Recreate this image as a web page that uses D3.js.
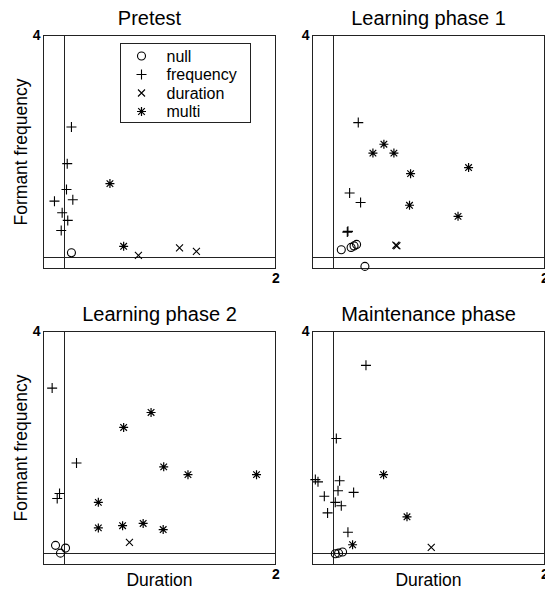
<!DOCTYPE html>
<html>
<head>
<script src="https://d3js.org/d3.v7.min.js"></script>
<style>
  body { margin: 0; background: #fff; }
  svg text { font-family: "Liberation Sans", Arial, sans-serif; fill: #000; }
  .tick text { font-size: 14px; font-weight: bold; }
</style>
</head>
<body>
<svg width="545" height="589"></svg>
<script>
const titles = ["Pretest", "Learning phase 1", "Learning phase 2", "Maintenance phase"];
const seriesNames = ["null", "frequency", "duration", "multi"];
const xTicks = [2];
const yTicks = [4];

// [duration, formant frequency], one list per panel
const nullPts = [
  [[0.065, 0.085]],
  [[0.073, 0.139], [0.166, 0.18], [0.194, 0.207], [0.218, 0.234], [0.297, -0.162]],
  [[-0.086, 0.145], [-0.039, 0.005], [0.009, 0.096]],
  [[0.016, -0.005], [0.047, 0.005], [0.085, 0.024]]
];
const frequencyPts = [
  [[0.065, 2.35], [0.025, 1.69], [0.018, 1.225], [-0.096, 1.014], [0.078, 1.04], [-0.023, 0.805], [0.03, 0.667], [-0.032, 0.486]],
  [[0.234, 2.43], [0.152, 1.16], [0.256, 0.99], [0.13, 0.456], [0.136, 0.47]],
  [[-0.118, 2.98], [0.113, 1.63], [-0.048, 1.08], [-0.07, 0.99]],
  [[0.307, 3.39], [0.026, 2.07], [-0.173, 1.33], [-0.148, 1.29], [0.057, 1.31], [0.042, 1.13], [0.19, 1.10],
   [-0.088, 1.03], [0.016, 0.92], [0.073, 0.86], [-0.057, 0.73], [0.136, 0.38]]
];
const durationPts = [
  [[0.70, 0.036], [1.09, 0.17], [1.25, 0.11]],
  [[0.59, 0.22], [0.60, 0.21]],
  [[0.615, 0.20]],
  [[0.926, 0.11]]
];
const multiPts = [
  [[0.43, 1.33], [0.56, 0.20]],
  [[0.373, 1.88], [0.477, 2.04], [0.572, 1.88], [0.73, 1.51], [1.28, 1.62], [0.72, 0.94], [1.18, 0.74]],
  [[0.82, 2.54], [0.56, 2.27], [0.94, 1.56], [1.17, 1.42], [1.82, 1.42], [0.32, 0.92], [0.32, 0.46],
   [0.55, 0.50], [0.745, 0.54], [0.935, 0.43]],
  [[0.474, 1.42], [0.696, 0.66], [0.18, 0.156]]
];
const seriesPts = [nullPts, frequencyPts, durationPts, multiPts];

const markerPath = {
  frequency: "M-5,0H5M0,-5V5",
  duration: "M-3.5,-3.5L3.5,3.5M-3.5,3.5L3.5,-3.5",
  multi: "M-4.5,0H4.5M0,-4.5V4.5M-3.3,-3.3L3.3,3.3M-3.3,3.3L3.3,-3.3"
};

function drawMarker(sel, name) {
  if (name === "null") {
    sel.append("circle").attr("r", 4)
      .attr("fill", "none").attr("stroke", "#000").attr("stroke-width", 1.1);
  } else {
    sel.append("path").attr("d", markerPath[name])
      .attr("fill", "none").attr("stroke", "#000")
      .attr("stroke-width", name === "multi" ? 1.2 : 1.1);
  }
}

const svg = d3.select("svg");
const panelW = 232, panelH = 233;
const lefts = [43, 312], tops = [35, 331];

const x = d3.scaleLinear().domain([-0.2, 2]).range([0, panelW]);
const y = d3.scaleLinear().domain([-0.2, 4]).range([panelH, 0]);

titles.forEach((title, i) => {
  const col = i % 2, row = Math.floor(i / 2);
  const g = svg.append("g")
    .attr("transform", `translate(${lefts[col] + 0.5},${tops[row] + 0.5})`);

  g.append("rect")
    .attr("width", panelW).attr("height", panelH)
    .attr("fill", "none").attr("stroke", "#222");

  g.append("line")
    .attr("x1", Math.round(x(0))).attr("x2", Math.round(x(0)))
    .attr("y1", 0).attr("y2", panelH)
    .attr("stroke", "#222");
  g.append("line")
    .attr("x1", 0).attr("x2", panelW)
    .attr("y1", Math.round(y(0))).attr("y2", Math.round(y(0)))
    .attr("stroke", "#222");

  const xAxis = g.append("g")
    .attr("transform", `translate(0,${panelH})`)
    .call(d3.axisBottom(x).tickValues(xTicks).tickFormat(d3.format("d")).tickSize(0).tickPadding(5));
  xAxis.select(".domain").remove();
  const yAxis = g.append("g")
    .call(d3.axisLeft(y).tickValues(yTicks).tickFormat(d3.format("d")).tickSize(0).tickPadding(3));
  yAxis.select(".domain").remove();

  // the first title sits a little left of centre in the original
  g.append("text")
    .attr("x", panelW / 2 - (i === 0 ? 10 : 0))
    .attr("y", -11)
    .attr("text-anchor", "middle")
    .attr("font-size", 20)
    .text(title);

  if (col === 0) {
    g.append("text")
      .attr("transform", `translate(${26 - lefts[col]},${panelH / 2}) rotate(-90)`)
      .attr("text-anchor", "middle")
      .attr("font-size", 17.5)
      .text("Formant frequency");
  }
  if (row === 1) {
    g.append("text")
      .attr("x", panelW / 2)
      .attr("y", 585 - tops[row])
      .attr("text-anchor", "middle")
      .attr("font-size", 17.5)
      .text("Duration");
  }

  seriesNames.forEach((name, s) => {
    g.append("g").selectAll("g")
      .data(seriesPts[s][i])
      .join("g")
        .attr("transform", d => `translate(${x(d[0])},${y(d[1])})`)
        .each(function () { drawMarker(d3.select(this), name); });
  });

  if (i === 0) {
    const legend = g.append("g").attr("transform", "translate(77,8)");
    legend.append("rect")
      .attr("width", 130).attr("height", 79)
      .attr("fill", "#fff").attr("stroke", "#222");
    const item = legend.selectAll(".item")
      .data(seriesNames)
      .join("g")
        .attr("class", "item")
        .attr("transform", (d, k) => `translate(0,${12.5 + k * 18.5})`);
    item.each(function (d) {
      const m = d3.select(this).append("g").attr("transform", "translate(21,0)");
      drawMarker(m, d);
    });
    item.append("text")
      .attr("x", 46)
      .attr("dy", "0.35em")
      .attr("font-size", 16)
      .text(d => d);
  }
});
</script>
</body>
</html>
